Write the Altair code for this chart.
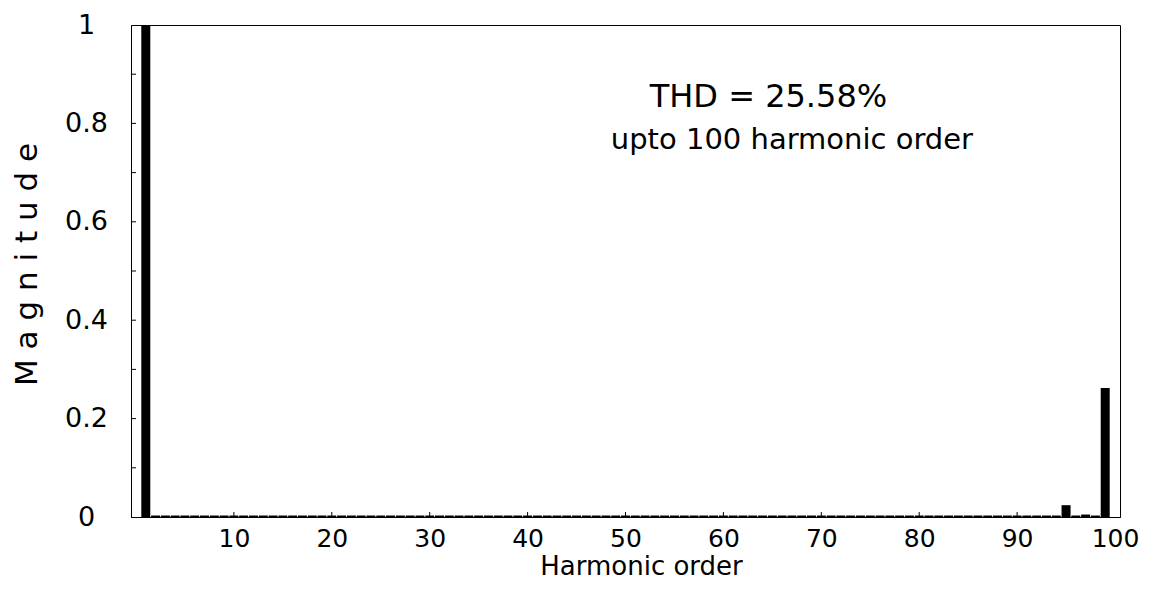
import altair as alt
import pandas as pd

# Harmonic spectrum (orders 1..100), magnitudes
orders = list(range(1, 101))
magnitudes = [
    1.000, 0.003, 0.003, 0.003, 0.003, 0.003, 0.003, 0.003, 0.003, 0.003,
    0.003, 0.003, 0.003, 0.003, 0.003, 0.003, 0.003, 0.003, 0.003, 0.003,
    0.003, 0.003, 0.003, 0.003, 0.003, 0.003, 0.003, 0.003, 0.003, 0.003,
    0.003, 0.003, 0.003, 0.003, 0.003, 0.003, 0.003, 0.003, 0.003, 0.003,
    0.003, 0.003, 0.003, 0.003, 0.003, 0.003, 0.003, 0.003, 0.003, 0.003,
    0.003, 0.003, 0.003, 0.003, 0.003, 0.003, 0.003, 0.003, 0.003, 0.003,
    0.003, 0.003, 0.003, 0.003, 0.003, 0.003, 0.003, 0.003, 0.003, 0.003,
    0.003, 0.003, 0.003, 0.003, 0.003, 0.003, 0.003, 0.003, 0.003, 0.003,
    0.003, 0.003, 0.003, 0.003, 0.003, 0.003, 0.003, 0.003, 0.003, 0.003,
    0.003, 0.003, 0.003, 0.003, 0.024, 0.003, 0.005, 0.003, 0.262, 0.000,
]

x_tick_labels = [10, 20, 30, 40, 50, 60, 70, 80, 90, 100]
y_tick_labels = [0, 0.2, 0.4, 0.6, 0.8, 1]
x_minor_ticks = [10, 20, 30, 40, 50, 60, 70, 80, 90]
y_minor_ticks = [0.1, 0.2, 0.3, 0.4, 0.5, 0.6, 0.7, 0.8, 0.9]

notes = ["THD = 25.58%", "upto 100 harmonic order"]
note_x = [64.6, 67.0]
note_y = [0.833, 0.748]
note_size = [32, 29]

W, H = 989, 492
FONT = "DejaVu Sans"

xscale = alt.Scale(domain=[0, 100], nice=False, zero=False)
yscale = alt.Scale(domain=[0, 1], nice=False)

xaxis = alt.Axis(values=x_tick_labels, title="Harmonic order",
                 ticks=False, tickSize=0, grid=False,
                 labelFont=FONT, labelFontSize=25, labelColor="black",
                 labelBaseline="alphabetic", labelPadding=29,
                 labelFlush=False, labelOverlap=False,
                 domainColor="black",
                 titleFont=FONT, titleFontSize=26, titleFontWeight="normal",
                 titleColor="black", titleX=510, titleY=57.5,
                 titleBaseline="alphabetic", titleAlign="center")
yaxis = alt.Axis(values=y_tick_labels, title="M a g n i t u d e",
                 format="~g",
                 ticks=False, tickSize=0, grid=False,
                 labelFont=FONT, labelFontSize=27, labelColor="black",
                 labelAlign="center", labelBaseline="middle",
                 labelPadding=45, labelFlush=False, labelOverlap=False,
                 domainColor="black",
                 titleFont=FONT, titleFontSize=31, titleFontWeight="normal",
                 titleColor="black", titleAngle=270, titleX=-104,
                 titleY=239, titleAlign="center", titleBaseline="middle")

bars_df = pd.DataFrame({"h": orders, "m": magnitudes})
xt_df = pd.DataFrame({"h": x_minor_ticks})
yt_df = pd.DataFrame({"m": y_minor_ticks})
notes_df = pd.DataFrame({"t": notes, "h": note_x, "m": note_y, "s": note_size})

bars = alt.Chart(bars_df).mark_bar(color="black", size=9).encode(
    x=alt.X("h:Q", scale=xscale, axis=xaxis),
    y=alt.Y("m:Q", scale=yscale, axis=yaxis),
)

xticks = alt.Chart(xt_df).mark_rule(color="black", strokeWidth=1).encode(
    x=alt.X("h:Q", scale=xscale, axis=xaxis),
    y=alt.value(H),
    y2=alt.value(H - 5),
)

yticks = alt.Chart(yt_df).mark_rule(color="black", strokeWidth=1).encode(
    y=alt.Y("m:Q", scale=yscale, axis=yaxis),
    x=alt.value(0),
    x2=alt.value(5),
)

texts = alt.Chart(notes_df).mark_text(
    font=FONT, color="black", align="center", baseline="alphabetic"
).encode(
    x=alt.X("h:Q", scale=xscale, axis=xaxis),
    y=alt.Y("m:Q", scale=yscale, axis=yaxis),
    text="t:N",
    size=alt.Size("s:Q", scale=None, legend=None),
)

chart = alt.layer(bars, xticks, yticks, texts).properties(
    width=W, height=H,
    autosize=alt.AutoSizeParams(type="none"),
    padding={"left": 123, "top": 17, "right": 26, "bottom": 64},
    background="white",
).configure_view(stroke="black", strokeWidth=1)

chart.save("out.html", embed_options={"renderer": "svg", "actions": False})
